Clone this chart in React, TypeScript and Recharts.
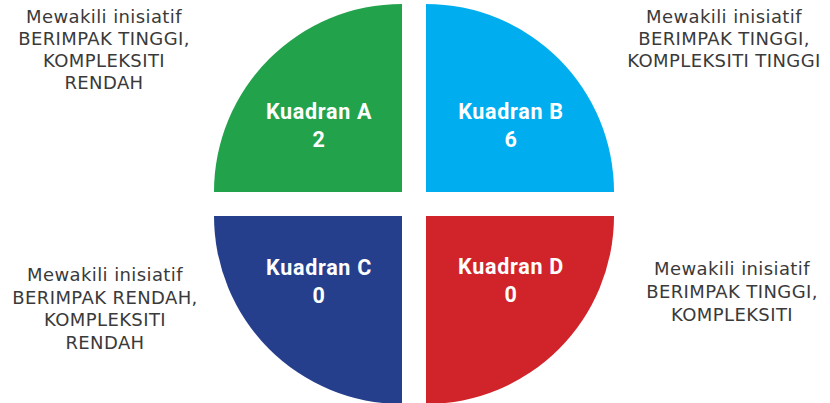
import { Pie, PieChart } from "recharts";

const quadrantNames = ["Kuadran A", "Kuadran B", "Kuadran C", "Kuadran D"];
const quadrantCounts = [2, 6, 0, 0];
const quadrantNotes = [
  ["Mewakili inisiatif", "BERIMPAK TINGGI,", "KOMPLEKSITI", "RENDAH"],
  ["Mewakili inisiatif", "BERIMPAK TINGGI,", "KOMPLEKSITI TINGGI"],
  ["Mewakili inisiatif", "BERIMPAK RENDAH,", "KOMPLEKSITI", "RENDAH"],
  ["Mewakili inisiatif", "BERIMPAK TINGGI,", "KOMPLEKSITI"],
];

const colors = ["#22a34b", "#00aeef", "#253f8d", "#d1232a"];

// each quadrant is a quarter of the circle, pulled apart by a 24px gap
const layout = [
  { cx: 402, cy: 192, start: 90, end: 180, dx: -83, dy: -73 },
  { cx: 426, cy: 192, start: 0, end: 90, dx: 85, dy: -73 },
  { cx: 402, cy: 216, start: 180, end: 270, dx: -83, dy: 59 },
  { cx: 426, cy: 216, start: 270, end: 360, dx: 85, dy: 58 },
];

const notePos = [
  { left: 0, top: 6, width: 208, lineHeight: 22 },
  { left: 614, top: 6, width: 220, lineHeight: 22 },
  { left: 0, top: 264, width: 210, lineHeight: 22.7 },
  { left: 622, top: 257, width: 220, lineHeight: 23 },
];

const RADIUS = 188;

export default function App() {
  return (
    <div style={{ position: "absolute", left: 0, top: 0, width: 830, height: 403, overflow: "hidden", background: "#fff" }}>
      <PieChart width={830} height={403} margin={{ top: 0, right: 0, bottom: 0, left: 0 }}>
        {quadrantNames.map((name, i) => {
          const l = layout[i];
          return (
            <Pie
              key={name}
              data={[{ name, count: quadrantCounts[i] }]}
              dataKey={() => 1}
              cx={l.cx}
              cy={l.cy}
              innerRadius={0}
              outerRadius={RADIUS}
              startAngle={l.start}
              endAngle={l.end}
              fill={colors[i]}
              stroke="none"
              labelLine={false}
              isAnimationActive={false}
              label={() => (
                <text
                  x={l.cx + l.dx}
                  y={l.cy + l.dy}
                  fill="#fff"
                  textAnchor="middle"
                  fontFamily="Roboto"
                  fontWeight="bold"
                  fontSize={21.5}
                  letterSpacing={0.7}
                >
                  <tspan x={l.cx + l.dx}>{name}</tspan>
                  <tspan x={l.cx + l.dx} dy={28}>
                    {quadrantCounts[i]}
                  </tspan>
                </text>
              )}
            />
          );
        })}
      </PieChart>
      {quadrantNotes.map((lines, i) => (
        <div
          key={i}
          style={{
            position: "absolute",
            left: notePos[i].left,
            top: notePos[i].top,
            width: notePos[i].width,
            textAlign: "center",
            fontFamily: "DejaVu Sans",
            fontSize: 18,
            letterSpacing: 0.4,
            lineHeight: `${notePos[i].lineHeight}px`,
            color: "#3a3a3a",
          }}
        >
          {lines.map((t) => (
            <div key={t}>{t}</div>
          ))}
        </div>
      ))}
    </div>
  );
}
